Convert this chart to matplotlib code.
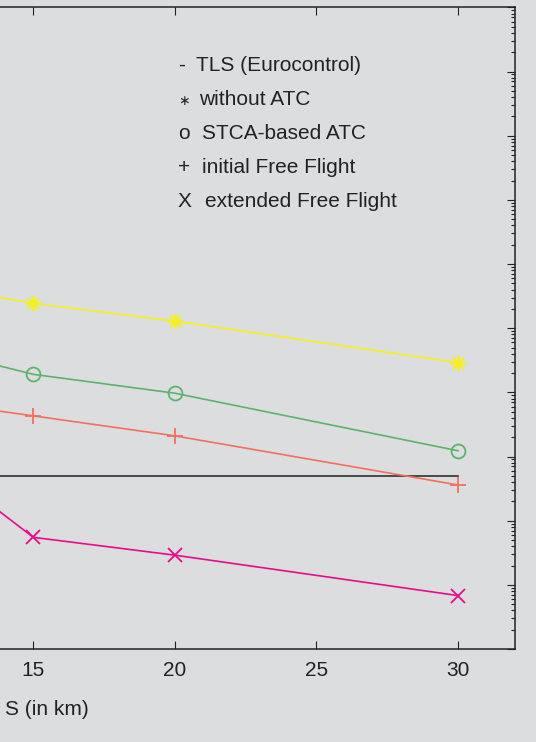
import numpy as np
import matplotlib
matplotlib.use('Agg')
import matplotlib.pyplot as plt
from matplotlib.ticker import LogLocator, NullFormatter

plt.rcParams['font.family'] = ['Liberation Sans', 'DejaVu Sans']

# Separation values S (km) and collision risk per scenario
sep_km = [10, 15, 20, 30]
risk_no_atc = [6.0e-6, 2.44e-6, 1.29e-6, 2.9e-7]
risk_stca = [6.8e-7, 1.91e-7, 9.7e-8, 1.23e-8]
risk_initial_ff = [8.8e-8, 4.3e-8, 2.1e-8, 3.6e-9]
risk_extended_ff = [2.7e-8, 5.5e-10, 2.9e-10, 6.8e-11]
tls_x = [5, 30]
tls_value = 5e-9

x_ticks = [5, 10, 15, 20, 25, 30]
x_tick_labels = ['', '', '15', '20', '25', '30']

legend_symbols = ['-', '\u2217', 'o', '+', 'X']
legend_labels = ['TLS (Eurocontrol)', 'without ATC', 'STCA-based ATC',
                 'initial Free Flight', 'extended Free Flight']

bg = '#dcdddf'
ink = '#222222'
W, H = 536, 742
fig = plt.figure(figsize=(W / 100, H / 100), dpi=100, facecolor=bg)

# axes run past the left edge of the figure
x_left, x_right = -249.8, 514.6
y_top, y_bot = 7.4, 649
ax = fig.add_axes([x_left / W, 1 - y_bot / H, (x_right - x_left) / W, (y_bot - y_top) / H])
ax.set_facecolor(bg)

ax.plot(tls_x, [tls_value, tls_value], color=ink, lw=1.1)
ax.plot(sep_km, risk_no_atc, color='#f7ef1e', lw=1.2, marker=(8, 2, 0), ms=11, mew=1.3)
ax.plot(sep_km, risk_stca, color='#5db36b', lw=1.2, marker='o', ms=10, mfc='none', mew=1.3)
ax.plot(sep_km, risk_initial_ff, color='#f2705e', lw=1.2, marker='+', ms=11, mew=1.3)
ax.plot(sep_km, risk_extended_ff, color='#ec0a8a', lw=1.2, marker='x', ms=10, mew=1.3)

ax.set_yscale('log')
ax.set_ylim(1e-11, 1e-1)
ax.yaxis.set_major_locator(LogLocator(base=10, numticks=20))
ax.yaxis.set_minor_locator(LogLocator(base=10, subs=np.arange(2, 10), numticks=200))
ax.yaxis.set_minor_formatter(NullFormatter())
ax.set_xlim(5, 32)
ax.set_xticks(x_ticks)
ax.set_xticklabels(x_tick_labels)

for s in ax.spines.values():
    s.set_color(ink)
    s.set_linewidth(1.1)

ax.tick_params(which='both', direction='in', top=True, right=True, colors=ink,
               labelsize=15, pad=9, labelleft=False)
ax.tick_params(which='major', length=6, width=0.8)
ax.tick_params(which='minor', length=3, width=0.8)
ax.tick_params(axis='x', which='minor', top=False, bottom=False)

ax.set_xlabel('S (in km)', fontsize=15, color=ink)
ax.xaxis.label.set_horizontalalignment('left')
ax.xaxis.set_label_coords((5 - x_left) / (x_right - x_left), -0.08)

label_x = [196, 199, 202, 202, 205]
for i, (sym, lab) in enumerate(zip(legend_symbols, legend_labels)):
    y = 1 - (70.7 + 34 * i) / H
    size = 10 if sym == '\u2217' else 15
    fig.text(178 / W, y, sym, fontsize=size, color=ink, ha='left', va='baseline')
    fig.text(label_x[i] / W, y, lab, fontsize=15, color=ink, ha='left', va='baseline')

fig.savefig('out.png', dpi=100, facecolor=bg)
